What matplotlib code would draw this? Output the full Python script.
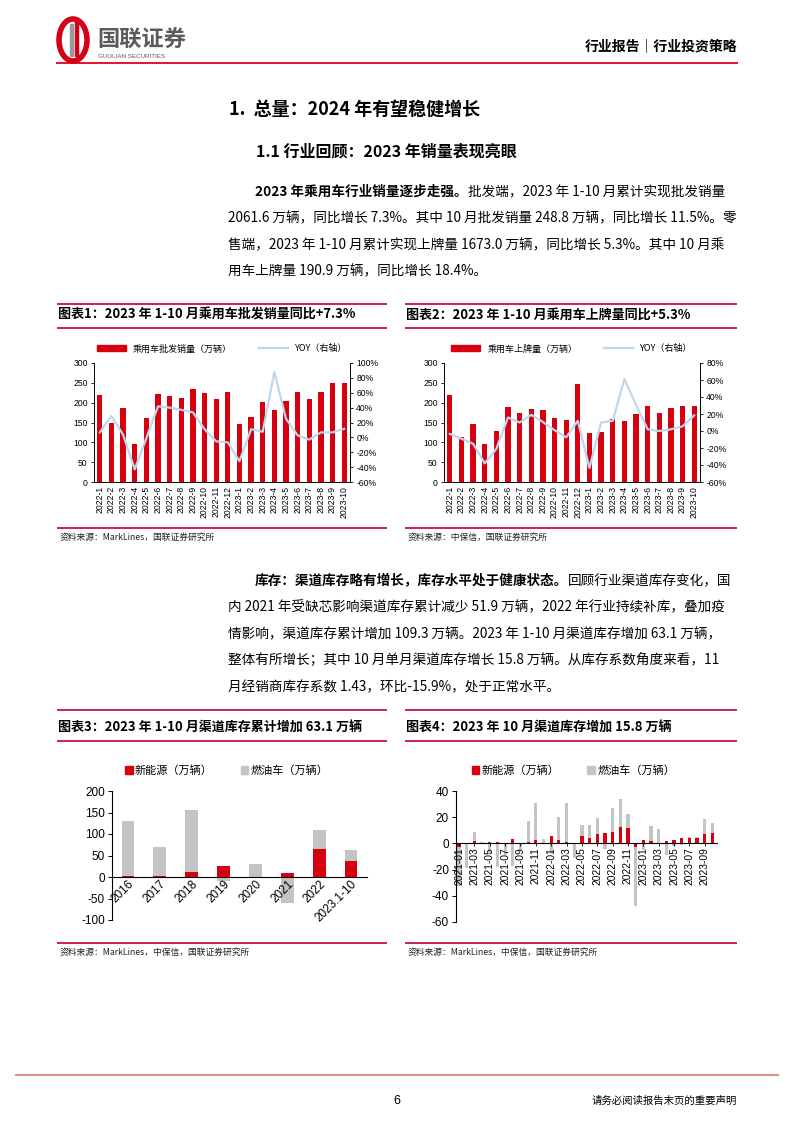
import matplotlib
matplotlib.use("Agg")
import matplotlib.pyplot as plt
from matplotlib.patches import Rectangle, Ellipse
from matplotlib.lines import Line2D
from matplotlib.ticker import PercentFormatter
import numpy as np

plt.rcParams['font.family'] = ['Noto Sans CJK SC', 'DejaVu Sans']
plt.rcParams['axes.unicode_minus'] = False

RED = '#D7000F'
LINERED = '#C0002A'
BLUE = '#BDD7EE'
GRAY = '#C4C4C4'
NUMFONT = ['Liberation Sans', 'Noto Sans CJK SC']

# ---- data: chart 1 / 2 (monthly, 2022-1 .. 2023-10)
months = ['2022-1', '2022-2', '2022-3', '2022-4', '2022-5', '2022-6', '2022-7', '2022-8',
          '2022-9', '2022-10', '2022-11', '2022-12', '2023-1', '2023-2', '2023-3', '2023-4',
          '2023-5', '2023-6', '2023-7', '2023-8', '2023-9', '2023-10']
wholesale = [219, 149, 186, 97, 162, 223, 218, 213, 234, 224, 208, 227,
             146, 165, 202, 182, 205, 227, 210, 228, 249, 248.8]
wholesale_yoy = [6.7, 29, 3.6, -43, -1, 41.7, 40, 37, 33.6, 11, -5.4, -6.7,
                 -32, 11, 7.6, 88, 25, 2.7, -3, 6.7, 6.7, 11.5]
retail = [219, 113, 145, 97, 129, 189, 174, 183, 181, 161, 157, 248,
          124, 125, 160, 155, 171, 192, 174, 187, 192, 190.9]
retail_yoy = [-3.5, -9, -15, -38, -21, 16, 10, 19, 10.6, 1, -7.5, 12,
              -43.5, 10, 12, 61, 31, 2, 0, 2, 5.5, 18.4]

# ---- data: chart 3 (yearly channel inventory change, 万辆)
years = ['2016', '2017', '2018', '2019', '2020', '2021', '2022', '2023.1-10']
inv_nev_year = [3, 3, 12, 25, 1, 9, 64, 38]
inv_ice_year = [128, 67, 143, -9, 29, -61, 45.3, 25.1]

# ---- data: chart 4 (monthly channel inventory change, 万辆)
inv_months = ['2021-01', '2021-02', '2021-03', '2021-04', '2021-05', '2021-06', '2021-07',
              '2021-08', '2021-09', '2021-10', '2021-11', '2021-12', '2022-01', '2022-02',
              '2022-03', '2022-04', '2022-05', '2022-06', '2022-07', '2022-08', '2022-09',
              '2022-10', '2022-11', '2022-12', '2023-01', '2023-02', '2023-03', '2023-04',
              '2023-05', '2023-06', '2023-07', '2023-08', '2023-09', '2023-10']
inv_nev_month = [-2.5, 0.5, 1.5, 0.3, 1, 0.8, 0.5, 3.3, 0.5, 1, 2.5, 0.5, 5.5, 2.5,
                 1, 0.5, 6, 4, 7.5, 7.8, 8.5, 12.5, 11.5, -2.5, 2.5, 2, 0.3, 2,
                 2.5, 4.5, 4.5, 4.5, 7, 7.8]
inv_ice_month = [-30, -19, 7, 1, -8, -18, -9, -17, -5, 16, 28.5, 2.5, -8, 18,
                 30, -11, 8, 10, 12, -4, 18.5, 21.5, 11, -45, -5, 11, 11, -9,
                 -2, -1, 0.5, 0.5, 12, 8]

W, H = 794, 1123
fig = plt.figure(figsize=(W / 100, H / 100), dpi=100)

bg = fig.add_axes([0, 0, 1, 1])
bg.set_xlim(0, W)
bg.set_ylim(H, 0)
bg.axis('off')


def px_axes(x0, y0, x1, y1):
    return fig.add_axes([x0 / W, 1 - y1 / H, (x1 - x0) / W, (y1 - y0) / H])


def hline(x0, x1, y, color=LINERED, lw=1.2):
    bg.plot([x0, x1], [y, y], color=color, lw=lw, solid_capstyle='butt')


# ---- header
bg.add_patch(Ellipse((73, 40), 28, 42, fill=False, ec='#D40018', lw=4))
bg.add_patch(Rectangle((70, 24), 3, 32, color='#999999'))
bg.add_patch(Rectangle((75, 20), 3, 36, color='#D40018'))
bg.text(97, 40, '国联证券', fontsize=16, fontweight='bold', color='#5b5b5b', va='center')
bg.text(98, 56, 'GUOLIAN SECURITIES', fontsize=4.5, color='#5b5b5b', va='center',
        family=NUMFONT)
bg.text(737, 47, '行业报告｜行业投资策略', fontsize=10, fontweight='bold', ha='right', va='center')
hline(56, 738, 63, color='#E0001B', lw=1.3)

# ---- headings
bg.text(229, 109, '1.  总量：2024 年有望稳健增长', fontsize=13, fontweight='bold', va='center')
bg.text(256, 151, '1.1 行业回顾：2023 年销量表现亮眼', fontsize=11.5, fontweight='bold', va='center')

BODY = 9.8


def para(x_first, x_rest, y0, bold, first_rest, lines, dy=26.5):
    t1 = bg.text(x_first, y0, bold, fontsize=BODY, fontweight='bold', va='bottom')
    bg.annotate(first_rest, xy=(1, 0), xycoords=t1, fontsize=BODY, va='bottom', ha='left')
    for i, s in enumerate(lines):
        bg.text(x_rest, y0 + dy * (i + 1), s, fontsize=BODY, va='bottom')


para(255, 228, 199, '2023 年乘用车行业销量逐步走强。', '批发端，2023 年 1-10 月累计实现批发销量',
     ['2061.6 万辆，同比增长 7.3%。其中 10 月批发销量 248.8 万辆，同比增长 11.5%。零',
      '售端，2023 年 1-10 月累计实现上牌量 1673.0 万辆，同比增长 5.3%。其中 10 月乘',
      '用车上牌量 190.9 万辆，同比增长 18.4%。'])

para(255, 228, 588, '库存：渠道库存略有增长，库存水平处于健康状态。', '回顾行业渠道库存变化，国',
     ['内 2021 年受缺芯影响渠道库存累计减少 51.9 万辆，2022 年行业持续补库，叠加疫',
      '情影响，渠道库存累计增加 109.3 万辆。2023 年 1-10 月渠道库存增加 63.1 万辆，',
      '整体有所增长；其中 10 月单月渠道库存增长 15.8 万辆。从库存系数角度来看，11',
      '月经销商库存系数 1.43，环比-15.9%，处于正常水平。'])


# ---- chart frames (titles, red rules, sources)
def frame(x0, x1, ytop, ytitle, ysrc, title, src):
    hline(x0, x1, ytop)
    bg.text(x0 + 1, ytitle, title, fontsize=9.4, fontweight='bold', va='center')
    hline(x0, x1, ytitle + 13)
    hline(x0, x1, ysrc - 9)
    bg.text(x0 + 3, ysrc, src, fontsize=6.3, va='center', color='#222222')


frame(57, 387, 304, 315, 537, '图表1：2023 年 1-10 月乘用车批发销量同比+7.3%', '资料来源：MarkLines，国联证券研究所')
frame(405, 737, 304, 315, 537, '图表2：2023 年 1-10 月乘用车上牌量同比+5.3%', '资料来源：中保信，国联证券研究所')
frame(57, 387, 710, 728, 952, '图表3：2023 年 1-10 月渠道库存累计增加 63.1 万辆', '资料来源：MarkLines，中保信，国联证券研究所')
frame(405, 737, 710, 728, 952, '图表4：2023 年 10 月渠道库存增加 15.8 万辆', '资料来源：MarkLines，中保信，国联证券研究所')


# ---- charts 1 & 2
def sales_chart(x0, bars, yoy, rlim, rstep, barlabel):
    ax = px_axes(x0, 363, x0 + 256, 482)
    x = np.arange(len(months))
    ax.bar(x, bars, width=0.45, color=RED, zorder=2)
    ax.set_ylim(0, 300)
    ax.set_yticks(range(0, 301, 50))
    ax.set_xlim(-0.5, len(months) - 0.5)
    ax.set_xticks(x)
    ax.set_xticklabels(months, rotation=90, fontsize=6.2, family=NUMFONT)
    ax.tick_params(axis='y', labelsize=6.2, length=2.5, width=0.6, pad=2)
    ax.tick_params(axis='x', length=0, pad=3)
    for lab in ax.get_yticklabels():
        lab.set_family(NUMFONT)
    ax.spines['top'].set_visible(False)
    ax.spines['right'].set_visible(False)
    for s in ('left', 'bottom'):
        ax.spines[s].set_linewidth(0.7)
    ax2 = ax.twinx()
    ax2.plot(x, yoy, color=BLUE, lw=1.6, zorder=3)
    ax2.set_ylim(*rlim)
    ax2.set_yticks(np.arange(rlim[0], rlim[1] + 1, rstep))
    ax2.yaxis.set_major_formatter(PercentFormatter(decimals=0))
    ax2.tick_params(axis='y', labelsize=6.2, length=2.5, width=0.6, pad=2)
    for lab in ax2.get_yticklabels():
        lab.set_family(NUMFONT)
    for s in ('top', 'left', 'bottom'):
        ax2.spines[s].set_visible(False)
    ax2.spines['right'].set_linewidth(0.7)
    handles = [Rectangle((0, 0), 1, 1, color=RED), Line2D([], [], color=BLUE, lw=1.6)]
    ax.legend(handles, [barlabel, 'YOY（右轴）'], loc='lower center', bbox_to_anchor=(0.5, 1.05),
              ncol=2, frameon=False, fontsize=6.5, handlelength=3.2, handleheight=0.6,
              columnspacing=3, borderaxespad=0)


sales_chart(94, wholesale, wholesale_yoy, (-60, 100), 20, '乘用车批发销量（万辆）')
sales_chart(444, retail, retail_yoy, (-60, 80), 20, '乘用车上牌量（万辆）')


# ---- stacked bar helper (mixed signs); tick labels sit on top of the bars
def stacked(ax, nev, ice, width):
    x = np.arange(len(nev))
    nev = np.array(nev, dtype=float)
    ice = np.array(ice, dtype=float)
    bottom = np.where(np.sign(nev) == np.sign(ice), nev, 0)
    ax.bar(x, ice, width=width, bottom=bottom, color=GRAY, zorder=1.0)
    ax.bar(x, nev, width=width, color=RED, zorder=1.2)
    ax.set_axisbelow(False)
    return x


def legend2(ax, fs):
    handles = [Rectangle((0, 0), 1, 1, color=RED), Rectangle((0, 0), 1, 1, color=GRAY)]
    ax.legend(handles, ['新能源（万辆）', '燃油车（万辆）'], loc='lower center',
              bbox_to_anchor=(0.45, 1.08), ncol=2, frameon=False, fontsize=fs,
              handlelength=0.7, handleheight=0.7, handletextpad=0.2,
              columnspacing=2.5, borderaxespad=0)


# ---- chart 3
ax3 = px_axes(112, 791, 367, 920)
ax3.spines['bottom'].set_position(('data', 0))
x3 = stacked(ax3, inv_nev_year, inv_ice_year, 0.4)
ax3.set_ylim(-100, 200)
ax3.set_yticks(range(-100, 201, 50))
ax3.set_xlim(-0.5, len(years) - 0.5)
ax3.set_xticks(x3)
ax3.set_xticklabels(years, rotation=45, ha='right', va='top', rotation_mode='anchor',
                    fontsize=8.5, family=NUMFONT)
ax3.spines['top'].set_visible(False)
ax3.spines['right'].set_visible(False)
ax3.tick_params(axis='x', length=0, pad=1)
ax3.tick_params(axis='y', labelsize=8.5, length=3, width=0.7, pad=2)
for lab in ax3.get_yticklabels():
    lab.set_family(NUMFONT)
legend2(ax3, 8)

# ---- chart 4
ax4 = px_axes(456, 791, 717, 922)
ax4.spines['bottom'].set_position(('data', 0))
x4 = stacked(ax4, inv_nev_month, inv_ice_month, 0.42)
ax4.set_ylim(-60, 40)
ax4.set_yticks(range(-60, 41, 20))
ax4.set_xlim(-0.4, len(inv_months) - 0.4)
ax4.set_xticks(x4[::2])
ax4.set_xticklabels(inv_months[::2], rotation=90, va='top', fontsize=7.4, family=NUMFONT)
ax4.spines['top'].set_visible(False)
ax4.spines['right'].set_visible(False)
ax4.tick_params(axis='x', length=2, width=0.6, pad=1)
ax4.tick_params(axis='y', labelsize=8.5, length=3, width=0.7, pad=2)
for lab in ax4.get_yticklabels():
    lab.set_family(NUMFONT)
legend2(ax4, 8)

# ---- footer
hline(15, 779, 1075, color='#E08080', lw=1.3)
bg.text(397, 1101, '6', fontsize=9, ha='center', va='center', family=NUMFONT)
bg.text(737, 1101, '请务必阅读报告末页的重要声明', fontsize=7.5, ha='right', va='center')

fig.savefig('out.png', dpi=100)
